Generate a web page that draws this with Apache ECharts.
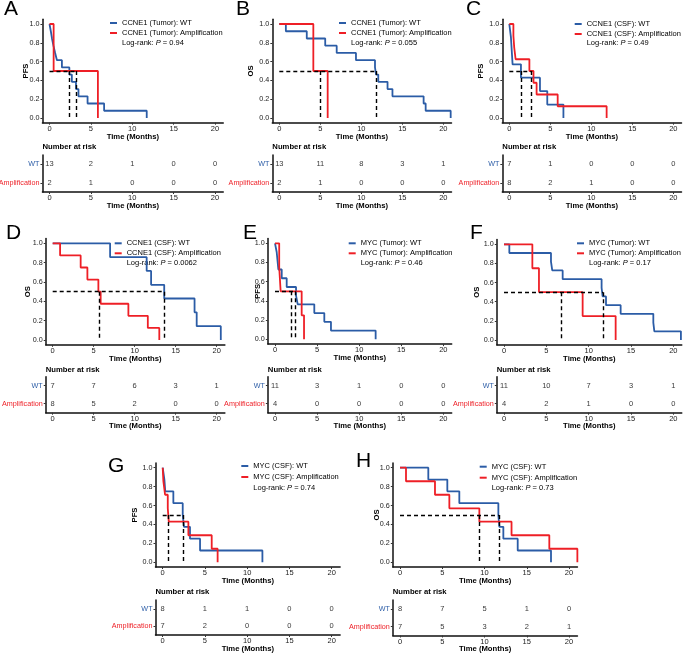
<!DOCTYPE html>
<html>
<head>
<meta charset="utf-8">
<script src="https://cdn.jsdelivr.net/npm/echarts@6/dist/echarts.min.js"></script>
<style>
  html, body { margin: 0; padding: 0; background: #fff; }
  #chart { width: 685px; height: 653px; }
</style>
</head>
<body>
<div id="chart"></div>
<script>
var FONT = '"Liberation Sans", Arial, Helvetica, sans-serif';
var BLUE = '#2b5ca6';
var RED = '#ee1f26';

var xTicks = [0, 5, 10, 15, 20];
var yTicks = [0, 0.2, 0.4, 0.6, 0.8, 1.0];
var riskTimes = [0, 5, 10, 15, 20];
var riskGroups = ['Amplification', 'WT'];

// A: CCNE1 (Tumor), PFS
var aWtTime = [0, 0.16, 0.3, 0.48, 0.68, 0.9, 1.5, 2.4, 2.7, 3.2, 3.5, 4.6, 6.6, 11.75];
var aWtSurv = [1, 0.923, 0.846, 0.769, 0.692, 0.615, 0.538, 0.462, 0.385, 0.308, 0.231, 0.154, 0.077, 0];
var aAmpTime = [0, 0.5, 5.85];
var aAmpSurv = [1, 0.5, 0];
var aMedians = [2.4, 3.2];
var aRiskWt = [13, 2, 1, 0, 0];
var aRiskAmp = [2, 1, 0, 0, 0];

// B: CCNE1 (Tumor), OS
var bWtTime = [0, 0.8, 3.35, 5.6, 7.0, 9.35, 11.67, 11.8, 12.07, 13.2, 13.8, 17.6, 17.85, 20.9];
var bWtSurv = [1, 0.923, 0.846, 0.769, 0.692, 0.615, 0.538, 0.462, 0.385, 0.308, 0.231, 0.154, 0.077, 0];
var bAmpTime = [0, 4.15, 5.9];
var bAmpSurv = [1, 0.5, 0];
var bMedians = [5.0, 11.8];
var bRiskWt = [13, 11, 8, 3, 1];
var bRiskAmp = [2, 1, 0, 0, 0];

// C: CCNE1 (CSF), PFS
var cWtTime = [0, 0.2, 0.4, 1.42, 3.74, 4.63, 6.6];
var cWtSurv = [1, 0.857, 0.571, 0.429, 0.286, 0.143, 0];
var cAmpTime = [0, 0.5, 0.6, 0.77, 2.45, 2.95, 3.33, 5.9, 11.87];
var cAmpSurv = [1, 0.875, 0.75, 0.625, 0.5, 0.375, 0.25, 0.125, 0];
var cMedians = [1.4, 2.7];
var cRiskWt = [7, 1, 0, 0, 0];
var cRiskAmp = [8, 2, 1, 0, 0];

// D: CCNE1 (CSF), OS
var dWtTime = [0, 7.0, 11.46, 12.0, 13.6, 17.3, 17.56, 20.5];
var dWtSurv = [1, 0.857, 0.714, 0.571, 0.429, 0.286, 0.143, 0];
var dAmpTime = [0, 0.9, 3.41, 4.23, 5.57, 5.85, 9.23, 11.6, 13.0];
var dAmpSurv = [1, 0.875, 0.75, 0.625, 0.5, 0.375, 0.25, 0.125, 0];
var dMedians = [5.7, 13.6];
var dRiskWt = [7, 7, 6, 3, 1];
var dRiskAmp = [8, 5, 2, 0, 0];

// E: MYC (Tumor), PFS
var eWtTime = [0, 0.2, 0.4, 0.8, 1.39, 2.5, 2.7, 4.67, 5.86, 6.65, 11.96];
var eWtSurv = [1, 0.909, 0.727, 0.636, 0.545, 0.455, 0.364, 0.273, 0.182, 0.091, 0];
var eAmpTime = [0, 0.5, 0.67, 3.17, 3.45];
var eAmpSurv = [1, 0.75, 0.5, 0.25, 0];
var eMedians = [1.92, 2.46];
var eRiskWt = [11, 3, 1, 0, 0];
var eRiskAmp = [4, 0, 0, 0, 0];

// F: MYC (Tumor), OS
var fWtTime = [0, 0.63, 5.55, 5.7, 6.93, 11.53, 11.65, 12.05, 13.78, 17.64, 17.76, 20.9];
var fWtSurv = [1, 0.909, 0.818, 0.727, 0.636, 0.545, 0.455, 0.364, 0.273, 0.182, 0.091, 0];
var fAmpTime = [0, 3.35, 4.13, 9.29, 13.19];
var fAmpSurv = [1, 0.75, 0.5, 0.25, 0];
var fMedians = [6.71, 11.7];
var fRiskWt = [11, 10, 7, 3, 1];
var fRiskAmp = [4, 2, 1, 0, 0];

// G: MYC (CSF), PFS
var gWtTime = [0, 0.2, 0.3, 1.26, 2.37, 2.52, 3.23, 4.42, 11.8];
var gWtSurv = [1, 0.875, 0.75, 0.625, 0.5, 0.375, 0.25, 0.125, 0];
var gAmpTime = [0, 0.08, 0.28, 0.6, 0.72, 3.04, 5.8, 6.5];
var gAmpSurv = [1, 0.857, 0.714, 0.571, 0.429, 0.286, 0.143, 0];
var gMedians = [0.7, 2.4];
var gRiskWt = [8, 1, 1, 0, 0];
var gRiskAmp = [7, 2, 0, 0, 0];

// H: MYC (CSF), OS
var hWtTime = [0, 3.35, 5.6, 7.02, 11.64, 11.76, 12.23, 13.93, 17.87];
var hWtSurv = [1, 0.875, 0.75, 0.625, 0.5, 0.375, 0.25, 0.125, 0];
var hAmpTime = [0, 0.71, 4.14, 5.84, 9.39, 13.2, 17.67, 20.99];
var hAmpSurv = [1, 0.857, 0.714, 0.571, 0.429, 0.286, 0.143, 0];
var hMedians = [9.39, 11.7];
var hRiskWt = [8, 7, 5, 1, 0];
var hRiskAmp = [7, 5, 3, 2, 1];

var panels = [
  {letter: 'A', yName: 'PFS', gene: 'CCNE1 (Tumor)', p: '0.94', wtT: aWtTime, wtS: aWtSurv, ampT: aAmpTime, ampS: aAmpSurv, med: aMedians, rWt: aRiskWt, rAmp: aRiskAmp,
   L: {x0: 49.5, x20: 215, y1: 24, y0: 118, riskTop: 155, riskBot: 192, nrY: 147, lx: 4, ly: 9, legX: 122, legY: 23, lrY: 43, legGap: 2, yGap: 13}},
  {letter: 'B', yName: 'OS', gene: 'CCNE1 (Tumor)', p: '0.055', wtT: bWtTime, wtS: bWtSurv, ampT: bAmpTime, ampS: bAmpSurv, med: bMedians, rWt: bRiskWt, rAmp: bRiskAmp,
   L: {x0: 279.3, x20: 443.3, y1: 24, y0: 118, riskTop: 155, riskBot: 192, nrY: 147, lx: 236, ly: 9, legX: 351, legY: 23, lrY: 43, legGap: 2, yGap: 17.5}},
  {letter: 'C', yName: 'PFS', gene: 'CCNE1 (CSF)', p: '0.49', wtT: cWtTime, wtS: cWtSurv, ampT: cAmpTime, ampS: cAmpSurv, med: cMedians, rWt: cRiskWt, rAmp: cRiskAmp,
   L: {x0: 509.3, x20: 673.3, y1: 24, y0: 118, riskTop: 155, riskBot: 192, nrY: 147, lx: 466, ly: 9, legX: 586.7, legY: 24, lrY: 43, legGap: 2, yGap: 17.5}},
  {letter: 'D', yName: 'OS', gene: 'CCNE1 (CSF)', p: '0.0062', wtT: dWtTime, wtS: dWtSurv, ampT: dAmpTime, ampS: dAmpSurv, med: dMedians, rWt: dRiskWt, rAmp: dRiskAmp,
   L: {x0: 52.7, x20: 216.7, y1: 243.3, y0: 340, riskTop: 376.7, riskBot: 412.7, nrY: 370, lx: 6, ly: 233, legX: 126.7, legY: 243.3, lrY: 263.3, legGap: 2, yGap: 14}},
  {letter: 'E', yName: 'PFS', gene: 'MYC (Tumor)', p: '0.46', wtT: eWtTime, wtS: eWtSurv, ampT: eAmpTime, ampS: eAmpSurv, med: eMedians, rWt: eRiskWt, rAmp: eRiskAmp,
   L: {x0: 275, x20: 443.3, y1: 243.3, y0: 339.3, riskTop: 376.7, riskBot: 412.7, nrY: 370, lx: 243, ly: 233, legX: 360.7, legY: 243.3, lrY: 263.3, legGap: 2, yGap: 6}},
  {letter: 'F', yName: 'OS', gene: 'MYC (Tumor)', p: '0.17', wtT: fWtTime, wtS: fWtSurv, ampT: fAmpTime, ampS: fAmpSurv, med: fMedians, rWt: fRiskWt, rAmp: fRiskAmp,
   L: {x0: 504, x20: 673.3, y1: 244.3, y0: 340, riskTop: 376.7, riskBot: 412.7, nrY: 370, lx: 470, ly: 233, legX: 589, legY: 243.3, lrY: 263.3, legGap: 2, yGap: 16}},
  {letter: 'G', yName: 'PFS', gene: 'MYC (CSF)', p: '0.74', wtT: gWtTime, wtS: gWtSurv, ampT: gAmpTime, ampS: gAmpSurv, med: gMedians, rWt: gRiskWt, rAmp: gRiskAmp,
   L: {x0: 162.7, x20: 331.7, y1: 467.7, y0: 562.3, riskTop: 600, riskBot: 635, nrY: 592, lx: 108, ly: 466, legX: 253.3, legY: 466, lrY: 487.7, legGap: 3, yGap: 17}},
  {letter: 'H', yName: 'OS', gene: 'MYC (CSF)', p: '0.73', wtT: hWtTime, wtS: hWtSurv, ampT: hAmpTime, ampS: hAmpSurv, med: hMedians, rWt: hRiskWt, rAmp: hRiskAmp,
   L: {x0: 400, x20: 569, y1: 467.7, y0: 562.3, riskTop: 600, riskBot: 635.5, nrY: 592, lx: 356, ly: 461, legX: 491.7, legY: 466.7, lrY: 487.7, legGap: 3, yGap: 12}}
];

var grids = [], xAxes = [], yAxes = [], series = [], legends = [], graphics = [];
var X_MIN = -0.85, X_MAX = 21, Y_MIN = -0.05, Y_MAX = 1.05;

function zip(a, b) {
  return a.map(function (v, i) { return [v, b[i]]; });
}

function axisLineStyle() {
  return {show: true, onZero: false, lineStyle: {color: '#111', width: 1.5}};
}

function timeAxis(gi, nameGap) {
  return {
    gridIndex: gi, type: 'value', min: X_MIN, max: X_MAX,
    splitLine: {show: false},
    axisLine: axisLineStyle(),
    axisTick: {show: true, length: 2, lineStyle: {color: '#333', width: 1}, customValues: xTicks},
    axisLabel: {fontSize: 7.5, color: '#222', margin: 2, fontFamily: FONT, customValues: xTicks},
    name: 'Time (Months)', nameLocation: 'middle', nameGap: nameGap, nameMoveOverlap: false,
    nameTextStyle: {fontSize: 7.7, fontWeight: 'bold', color: '#000', fontFamily: FONT}
  };
}

function addPanel(p) {
  var L = p.L;
  var pxX = (L.x20 - L.x0) / 20;
  var left = L.x0 + X_MIN * pxX;
  var width = (X_MAX - X_MIN) * pxX;
  var pxY = L.y0 - L.y1;
  var top = L.y1 - (Y_MAX - 1) * pxY;
  var height = (Y_MAX - Y_MIN) * pxY;

  // survival plot
  var gi = grids.length;
  grids.push({left: left, top: top, width: width, height: height, outerBoundsMode: 'none'});
  xAxes.push(timeAxis(gi, 10));
  yAxes.push({
    gridIndex: gi, type: 'value', min: Y_MIN, max: Y_MAX,
    splitLine: {show: false},
    axisLine: axisLineStyle(),
    axisTick: {show: true, length: 2, lineStyle: {color: '#333', width: 1}, customValues: yTicks},
    axisLabel: {fontSize: 7.2, color: '#222', margin: 3, fontFamily: FONT, customValues: yTicks,
      formatter: function (v) { return v.toFixed(1); }},
    name: p.yName, nameLocation: 'middle', nameRotate: 90, nameGap: L.yGap, nameMoveOverlap: false,
    nameTextStyle: {fontSize: 7.7, fontWeight: 'bold', color: '#000', fontFamily: FONT}
  });

  var wtName = p.gene + ': WT';
  var ampName = p.gene + ': Amplification';
  var medMax = Math.max.apply(null, p.med);
  var medLines = [[{coord: [0, 0.5]}, {coord: [medMax, 0.5]}]];
  p.med.forEach(function (m) {
    medLines.push([{coord: [m, 0.5]}, {coord: [m, 0]}]);
  });

  series.push({
    type: 'line', name: wtName, xAxisIndex: gi, yAxisIndex: gi,
    data: zip(p.wtT, p.wtS), step: 'end', symbol: 'none',
    lineStyle: {color: BLUE, width: 1.8}, itemStyle: {color: BLUE}, z: 3
  });
  series.push({
    type: 'line', name: ampName, xAxisIndex: gi, yAxisIndex: gi,
    data: zip(p.ampT, p.ampS), step: 'end', symbol: 'none',
    lineStyle: {color: RED, width: 1.8}, itemStyle: {color: RED}, z: 4,
    markLine: {
      silent: true, symbol: ['none', 'none'], label: {show: false},
      lineStyle: {color: '#000', type: [4, 3], width: 1.4},
      data: medLines
    }
  });

  legends.push({
    data: [wtName, ampName], left: L.legX - 12, top: L.legY - 4,
    orient: 'vertical', itemWidth: 7, itemHeight: 2, itemGap: L.legGap, icon: 'rect',
    padding: 0, selectedMode: false,
    textStyle: {fontSize: 7.5, color: '#000', fontFamily: FONT, lineHeight: 8}
  });

  graphics.push({
    type: 'text', x: L.legX, y: L.lrY,
    style: {
      text: '{n|Log-rank: }{i|P}{n| = ' + p.p + '}',
      rich: {
        n: {fontSize: 7.5, fontFamily: FONT, fill: '#000', color: '#000'},
        i: {fontSize: 7.5, fontFamily: FONT, fontStyle: 'italic', fill: '#000', color: '#000'}
      },
      textVerticalAlign: 'middle', verticalAlign: 'middle'
    }
  });
  graphics.push({
    type: 'text', x: L.lx, y: L.ly,
    style: {text: p.letter, font: '21px ' + FONT, fill: '#000', textVerticalAlign: 'middle', verticalAlign: 'middle'}
  });
  graphics.push({
    type: 'text', x: left, y: L.nrY,
    style: {text: 'Number at risk', font: 'bold 7.7px ' + FONT, fill: '#000', textVerticalAlign: 'middle', verticalAlign: 'middle'}
  });

  // risk table
  var ri = grids.length;
  grids.push({left: left, top: L.riskTop, width: width, height: L.riskBot - L.riskTop, outerBoundsMode: 'none'});
  xAxes.push(timeAxis(ri, 9.5));
  yAxes.push({
    gridIndex: ri, type: 'category', data: riskGroups,
    axisLine: {show: true, onZero: false, lineStyle: {color: '#111', width: 1.5}},
    axisTick: {show: true, length: 2, alignWithLabel: true, lineStyle: {color: '#333', width: 1}},
    splitLine: {show: false},
    axisLabel: {
      margin: 3,
      formatter: function (v) { return v === 'WT' ? '{b|WT}' : '{r|Amplification}'; },
      rich: {
        b: {color: BLUE, fontSize: 7.2, fontFamily: FONT},
        r: {color: RED, fontSize: 7.2, fontFamily: FONT}
      }
    }
  });
  var riskData = riskTimes.map(function (t, i) { return [t, 'WT', p.rWt[i]]; })
    .concat(riskTimes.map(function (t, i) { return [t, 'Amplification', p.rAmp[i]]; }));
  series.push({
    type: 'scatter', xAxisIndex: ri, yAxisIndex: ri, data: riskData,
    symbolSize: 1, itemStyle: {color: 'rgba(0,0,0,0)'}, silent: true,
    label: {show: true, position: 'inside', fontSize: 7.5, color: '#000', fontFamily: FONT,
      formatter: function (q) { return q.value[2]; }}
  });
}

panels.forEach(addPanel);

var chart = echarts.init(document.getElementById('chart'));
chart.setOption({
  animation: false,
  backgroundColor: '#fff',
  grid: grids,
  xAxis: xAxes,
  yAxis: yAxes,
  legend: legends,
  series: series,
  graphic: graphics,
  tooltip: {show: false}
});
</script>
</body>
</html>
